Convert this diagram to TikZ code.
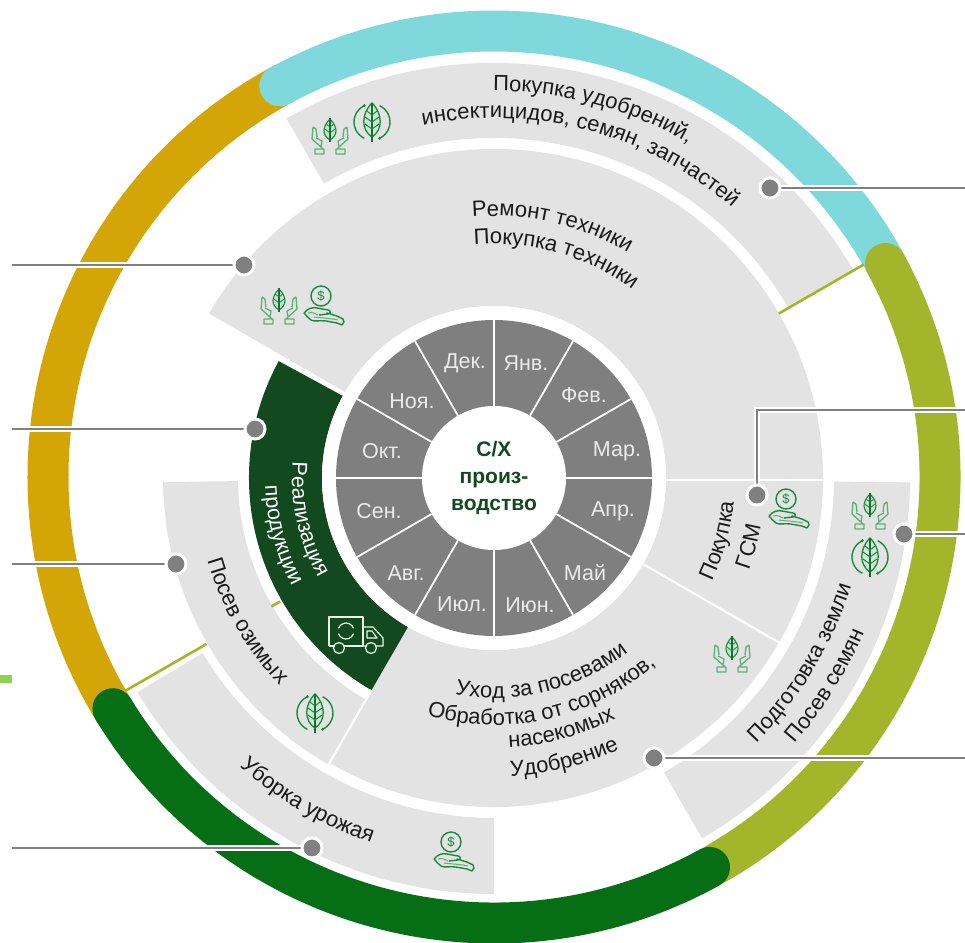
\documentclass[tikz,border=0pt]{standalone}
\usepackage{fontspec}
\setmainfont{Liberation Sans}
\usetikzlibrary{decorations.text,arrows.meta}
\definecolor{cteal}{HTML}{7FD8DC}
\definecolor{cochre}{HTML}{D4A506}
\definecolor{colive}{HTML}{A3B52A}
\definecolor{cdark}{HTML}{066E14}
\definecolor{cforest}{HTML}{13491F}
\definecolor{cgrey}{HTML}{E3E3E3}
\definecolor{cwheel}{HTML}{7F7F7F}
\definecolor{cline}{HTML}{808080}
\definecolor{ctxt}{HTML}{1A1A1A}
\definecolor{cicon}{HTML}{1B8A3C}
\definecolor{cpale}{HTML}{5FAF78}
\definecolor{clime}{HTML}{92D050}
\newcommand{\lbl}{\fontsize{22}{26}\selectfont\color{ctxt}}
\newcommand{\lblw}{\fontsize{21.5}{26}\selectfont\color{white}}
% clockwise text: radius, middle angle, format, text
\newcommand{\cwtxt}[4]{\path[decorate,decoration={text along path,text align=center,text={|#3|#4}}] ({#2+50}:#1) arc[start angle={#2+50},end angle={#2-50},radius=#1];}
% counter-clockwise text
\newcommand{\ccwtxt}[4]{\path[decorate,decoration={text along path,text align=center,text={|#3|#4}}] ({#2-50}:#1) arc[start angle={#2-50},end angle={#2+50},radius=#1];}
\newcommand{\sect}[5]{\fill[#1] (#4:#2) arc[start angle=#4,end angle=#5,radius=#2] -- (#5:#3) arc[start angle=#5,end angle=#4,radius=#3] -- cycle;}
\tikzset{
  band/.style={line width=41pt,line cap=butt},
  tick/.style={draw=colive,line width=2.6pt},
  sep/.style={draw=white,line width=2.2pt},
  month/.style={text=white!92!black,font=\fontsize{21.5}{26}\selectfont,inner sep=0pt},
  dot/.style={circle,fill=cline,draw=white,line width=3pt,minimum size=20pt,inner sep=0pt},
  halo/.style={draw=white,line width=6.5pt},
  lead/.style={draw=cline,line width=2.6pt},
  handsplant/.pic={
    \draw[cicon,line width=1.1pt,fill=cpale!35] (0,18) .. controls (8,10) and (8,2) .. (0,-3) .. controls (-8,2) and (-8,10) .. (0,18) -- cycle;
    \draw[cicon!80!black,line width=2.2pt] (0,19) -- (0,-5);
    \draw[cicon,line width=.8pt] (0,10) -- (-4,13) (0,10) -- (4,13) (0,4) -- (-5,8) (0,4) -- (5,8);
    \foreach \s in {1,-1}{
      \draw[cpale,line width=1.3pt,line join=round,xscale=\s] (17,10) -- (18,-2) -- (9,-10) -- (8,-4) -- (14,-1) (14,8) -- (17,10) (14,8) -- (13,0) (9,-10) -- (7,-12) (6,-17) -- (15,-17) -- (15,-12) -- (6,-12) -- cycle;
    }
  },
  leafcycle/.pic={
    \draw[cicon,line width=1.4pt] (115:18) arc[start angle=115,end angle=245,radius=18];
    \draw[cicon,line width=1.4pt] (-65:18) arc[start angle=-65,end angle=65,radius=18];
    \fill[cicon] (115:18) circle (1.6pt) (-65:18) circle (1.6pt);
    \draw[cicon,line width=1.3pt,fill=cpale!30] (0,19) .. controls (11,8) and (11,-8) .. (0,-15) .. controls (-11,-8) and (-11,8) .. (0,19) -- cycle;
    \draw[cicon!80!black,line width=1.8pt] (0,19) -- (0,-20);
    \draw[cicon,line width=1pt] (0,7) -- (-5,11) (0,7) -- (5,11) (0,0) -- (-7,5) (0,0) -- (7,5) (0,-7) -- (-7,-2) (0,-7) -- (7,-2);
  },
  handcoin/.pic={
    \draw[cicon,line width=1.4pt] (-2,11) circle (10pt);
    \node[inner sep=0pt,text=cicon,font=\fontsize{13}{14}\selectfont] (-coinmark) at (-2,11) {\$};
    \draw[cicon,line width=1.4pt,line join=round,line cap=round] (-19,-6) .. controls (-15,-1) and (-10,0) .. (-6,-1) -- (5,-3) .. controls (8,-3) and (8,-7) .. (5,-7) -- (-4,-8) (4,-6) -- (14,-9) -- (20,-12) .. controls (22,-14) and (21,-16) .. (19,-18) -- (14,-16) -- (3,-14) .. controls (-4,-13) and (-9,-15) .. (-12,-13) .. controls (-14,-11) and (-17,-9) .. (-19,-6);
    \draw[cpale,line width=1pt] (-15,-6) .. controls (-11,-5) and (-8,-6) .. (-5,-8) (-9,-10) .. controls (-3,-11) and (6,-11) .. (15,-13);
  },
  truckicon/.pic={
    \begin{scope}[draw=white!90!green,line width=1.2pt,line join=round]
      \draw (-27,-11) -- (-27,18) -- (7,18) -- (7,-11) -- (-27,-11);
      \draw (7,8) -- (17,8) -- (27,-3) -- (27,-11) -- (7,-11);
      \draw (11,4) -- (16,4) -- (21,-3) -- (11,-3) -- cycle;
      \draw[fill=cforest] (-17,-13) circle (5.5pt) (15,-13) circle (5.5pt);
      \draw (-10,4) ++(20:8) arc[start angle=20,end angle=160,radius=8];
      \draw (-10,4) ++(200:8) arc[start angle=200,end angle=340,radius=8];
    \end{scope}
  }
}
\begin{document}
\begin{tikzpicture}[x=1pt,y=1pt]
\useasboundingbox (-494,-464) rectangle (471,478);
\fill[white] (-494,-464) rectangle (471,478);
% outer ring
\begin{scope}[shift={(0,1)}]
  \draw[band,cochre] (118:446) arc[start angle=118,end angle=212,radius=446];
  \draw[band,cteal,line cap=round] (118.7:446) arc[start angle=118.7,end angle=28,radius=446];
  \draw[band,colive,line cap=round] (28.6:446) arc[start angle=28.6,end angle=-60,radius=446];
  \draw[band,cdark,line cap=round] (211.3:446) arc[start angle=211.3,end angle=298.9,radius=446];
\end{scope}
% grey sectors
\sect{cgrey}{340}{415}{120}{30}
\sect{cgrey}{340}{416}{-0.6}{-60}
\sect{cgrey}{340}{416}{211}{270}
\sect{cgrey}{172}{329}{0}{150}
\sect{cgrey}{172}{329}{0}{-120}
\sect{cgrey}{256}{331}{180.7}{240}
\sect{cforest}{172}{245}{151.5}{240}
\draw[sep] (172,-2) -- (331,-2);
\draw[sep] (-30:172) -- (-30:331);
\draw[sep] (240:245) -- (240:331);
\draw[tick] (30:329) -- (30:427);
\draw[tick] (210:332) -- (210:427);
\draw[tick] (210:247) -- (210:257);
% wheel
\fill[white] (0,0) circle (172pt);
\fill[cwheel] (0,0) circle (158pt);
\foreach \a in {0,30,...,330}{\draw[draw=white,line width=1.8pt] (\a:72) -- (\a:158);}
\node[circle,fill=white,minimum size=144pt,inner sep=0pt,align=center,text=cforest,font=\fontsize{21}{27}\selectfont\bfseries] (hub) at (0,0) {С/Х\\произ-\\водство};
\node[month] (m1) at (32,115) {Янв.};
\node[month] (m2) at (90,83) {Фев.};
\node[month] (m3) at (123,27) {Мар.};
\node[month] (m4) at (119,-33) {Апр.};
\node[month] (m5) at (91,-95) {Май};
\node[month] (m6) at (36,-127) {Июн.};
\node[month] (m7) at (-32,-126) {Июл.};
\node[month] (m8) at (-88,-95) {Авг.};
\node[month] (m9) at (-115,-33) {Сен.};
\node[month] (m10) at (-112,27) {Окт.};
\node[month] (m11) at (-82,77) {Ноя.};
\node[month] (m12) at (-29,115) {Дек.};
% curved labels
\cwtxt{387}{75}{\lbl}{Покупка удобрений,}
\cwtxt{360}{75}{\lbl}{инсектицидов, семян, запчастей}
\cwtxt{262}{77}{\lbl}{Ремонт техники}
\cwtxt{234}{74.3}{\lbl}{Покупка техники}
\ccwtxt{241}{-15.6}{\lbl}{Покупка}
\ccwtxt{271}{-15}{\lbl}{ГСМ}
\ccwtxt{373}{-31}{\lbl}{Подготовка земли}
\ccwtxt{401}{-32}{\lbl}{Посев семян}
\ccwtxt{220}{283.7}{\lbl}{Уход за посевами}
\ccwtxt{247}{282.6}{\lbl}{Обработка от сорняков,}
\ccwtxt{270}{285}{\lbl}{насекомых}
\ccwtxt{299}{284}{\lbl}{Удобрение}
\ccwtxt{385}{240}{\lbl}{Уборка урожая}
\ccwtxt{298}{210}{\lbl}{Посев озимых}
\ccwtxt{202}{192.5}{\lblw}{Реализация}
\ccwtxt{229}{195}{\lblw}{продукции}
% icons
\pic (i1) at (-164,341) {handsplant};
\pic (i2) at (-122,356) {leafcycle};
\pic (i3) at (-215,171) {handsplant};
\pic (i4) at (-171,171) {handcoin};
\pic (i5) at (294,-32) {handcoin};
\pic (i6) at (376,-34) {handsplant};
\pic (i7) at (376,-79) {leafcycle};
\pic (i8) at (238,-177) {handsplant};
\pic (i9) at (-179,-235) {leafcycle};
\pic (i10) at (-41,-375) {handcoin};
\pic (i11) at (-138,-157) {truckicon};
% leaders
\coordinate (e1) at (471,290);
\coordinate (e2) at (-482,213);
\coordinate (e3) at (-482,49);
\coordinate (e4) at (-482,-86);
\coordinate (e5) at (-482,-370);
\coordinate (e6) at (471,68);
\coordinate (b6) at (263,68);
\coordinate (e7) at (471,-56);
\coordinate (e8) at (471,-280);
\coordinate (d1) at (276,290);
\coordinate (d2) at (-250,213);
\coordinate (d3) at (-239,49);
\coordinate (d4) at (-318,-86);
\coordinate (d5) at (-182,-370);
\coordinate (d6) at (263,-17);
\coordinate (d7) at (410,-56);
\coordinate (d8) at (160,-280);
\draw[halo] (e1) -- (d1) (e2) -- (d2) (e3) -- (d3) (e4) -- (d4) (e5) -- (d5) (e6) -- (b6) -- (d6) (e7) -- (d7) (e8) -- (d8);
\draw[lead] (e1) -- (d1) (e2) -- (d2) (e3) -- (d3) (e4) -- (d4) (e5) -- (d5) (e6) -- (b6) -- (d6) (e7) -- (d7) (e8) -- (d8);
\foreach \n in {1,...,8}{\node[dot] (n\n) at (d\n) {};}
% lime bar
\fill[clime] (-494,-197) rectangle (-482,-205);
\end{tikzpicture}
\end{document}
